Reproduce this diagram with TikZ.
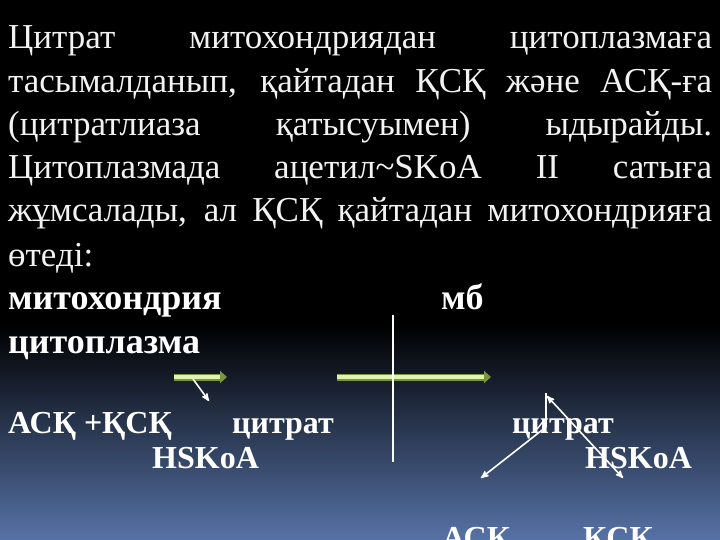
\documentclass[tikz,border=0pt]{standalone}
\usepackage{fontspec}
\setmainfont{Liberation Serif}
\usetikzlibrary{arrows,arrows.meta,positioning}
\definecolor{bgmid}{RGB}{30,40,62}
\definecolor{bgbot}{RGB}{86,114,166}
\definecolor{greenedge}{RGB}{120,150,60}
\definecolor{greenfill}{RGB}{226,242,176}
\definecolor{textgray}{RGB}{242,242,242}
\newcommand{\fullline}[1]{\makebox[704pt][s]{#1}}

\begin{document}
\begin{tikzpicture}[x=1pt,y=-1pt,>=stealth',font=\fontsize{35}{42}\selectfont]
\tikzstyle{body line}=[anchor=base west,inner sep=0,text=textgray]
\tikzstyle{head label}=[anchor=base west,inner sep=0,text=white,font=\fontsize{36}{42}\selectfont\bfseries]
\tikzstyle{bold label}=[anchor=base west,inner sep=0,text=white,font=\fontsize{32}{42}\selectfont\bfseries]

\tikzset{
	green arrow/.style={draw=greenedge,line width=7pt,-{Triangle[length=7pt,width=12pt]}},
	green core/.style={draw=greenfill,line width=4pt,shorten >=7pt},
	white line/.style={draw=white,line width=1.6pt},
	white arrow/.style={draw=white,line width=1.6pt,->}
}

% background
\useasboundingbox (0,0) rectangle (720,540);
\fill[black] (0,0) rectangle (720,326);
\shade[top color=black,middle color=bgmid,bottom color=bgbot] (0,325) rectangle (720,540);

% text
      \node[body line] (l1) at (8,49) {\fullline{Цитрат митохондриядан цитоплазмаға}};
      \node[body line] (l2) at (8,93) {\fullline{тасымалданып, қайтадан ҚСҚ және АСҚ-ға}};
      \node[body line] (l3) at (8,136) {\fullline{(цитратлиаза қатысуымен) ыдырайды.}};
      \node[body line] (l4) at (8,179) {\fullline{Цитоплазмада ацетил\textasciitilde SKoA II сатыға}};
      \node[body line] (l5) at (8,222) {\fullline{жұмсалады, ал ҚСҚ қайтадан митохондрияға}};
      \node[body line] (l6) at (8,266) {өтеді:};

      \node[head label] (mito) at (8,309) {митохондрия};
      \node[head label] (mb) at (441,309) {мб};
      \node[head label] (cyto) at (8,353) {цитоплазма};

      \node[bold label] (acpk) at (8,433) {АСҚ +ҚСҚ};
      \node[bold label] (cit1) at (232,433) {цитрат};
      \node[bold label] (hs1) at (152,468) {HSKoA};
      \node[bold label] (cit2) at (512,433) {цитрат};
      \node[bold label] (hs2) at (585,468) {HSKoA};
      \node[bold label] (asq) at (442,548) {АСҚ};
      \node[bold label] (qsq) at (583,548) {ҚСҚ};

% arrows
      \coordinate (g1a) at (174,377);
      \coordinate (g1b) at (227,377);
      \coordinate (g2a) at (337,377);
      \coordinate (g2b) at (491,377);
      \coordinate (mtop) at (393,315);
      \coordinate (mbot) at (393,462);
      \coordinate (w1a) at (193,379);
      \coordinate (w1b) at (209,401);
      \coordinate (stem) at (546,393);
      \coordinate (fork) at (546,427);
      \coordinate (leftend) at (481,478);
      \coordinate (topend) at (547,396);
      \coordinate (rightend) at (623,478);

    \path[green arrow] (g1a) -- (g1b);
    \path[green core] (g1a) -- (g1b);
    \path[green arrow] (g2a) -- (g2b);
    \path[green core] (g2a) -- (g2b);
    \path[white line] (mtop) -- (mbot);
    \path[white arrow] (w1a) -- (w1b);

    \path[white line] (stem) -- (fork);
    \path[white arrow] (fork) -- (leftend);
    \path[white arrow,<->] (topend) -- (rightend);
\end{tikzpicture}
\end{document}
